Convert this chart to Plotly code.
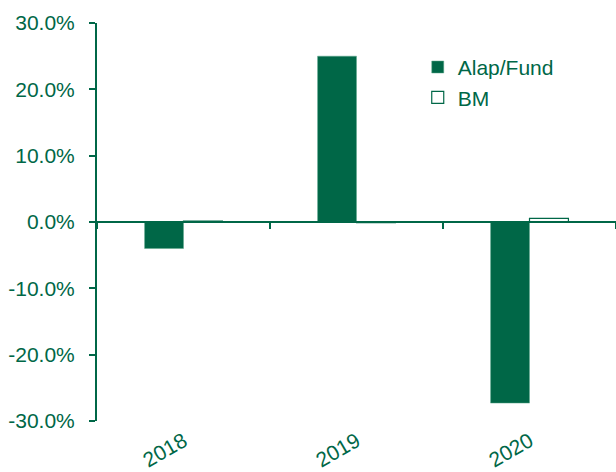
import plotly.graph_objects as go

years = ["2018", "2019", "2020"]
fund = [-4.0, 25.0, -27.3]
bm = [0.15, -0.1, 0.55]
y_ticks = [-30, -20, -10, 0, 10, 20, 30]
y_labels = ["-30.0%", "-20.0%", "-10.0%", "0.0%", "10.0%", "20.0%", "30.0%"]

GREEN = "#006747"
FONT = "Liberation Sans, Arial, sans-serif"

fig = go.Figure()
fig.add_trace(go.Bar(name="Alap/Fund", x=years, y=fund,
                     marker=dict(color=GREEN, line=dict(color="#5fa88c", width=0.5))))
fig.add_trace(go.Bar(name="BM", x=years, y=bm,
                     marker=dict(color="white", line=dict(color=GREEN, width=1.2))))
# invisible trace to carry the zero-level category axis
fig.add_trace(go.Scatter(x=years, y=[0, 0, 0], xaxis="x2", mode="none",
                         showlegend=False, hoverinfo="skip"))

fig.update_layout(
    width=616, height=472,
    margin=dict(l=97, r=0, t=23, b=51),
    paper_bgcolor="white", plot_bgcolor="white",
    barmode="group", bargap=0.55, bargroupgap=0,
    font=dict(family=FONT, size=21, color=GREEN),
    showlegend=True,
    legend=dict(x=0.618, y=0.94, xanchor="left", yanchor="top",
                bgcolor="rgba(0,0,0,0)", font=dict(size=21, color=GREEN),
                itemwidth=30, tracegroupgap=0),
    xaxis=dict(showline=False, ticks="", showgrid=False, zeroline=False,
               tickangle=-30, ticklabelstandoff=3, automargin=False,
               tickfont=dict(size=21, color=GREEN)),
    xaxis2=dict(overlaying="x", matches="x", anchor="free", position=0.5,
                showline=True, linecolor=GREEN, linewidth=2,
                ticks="outside", tickson="boundaries", ticklen=6,
                tickcolor=GREEN, tickwidth=2, showticklabels=False,
                showgrid=False, zeroline=False, automargin=False),
    yaxis=dict(range=[-30, 30], tickvals=y_ticks, ticktext=y_labels,
               showline=True, linecolor=GREEN, linewidth=2,
               ticks="outside", ticklen=6, tickcolor=GREEN, tickwidth=2,
               showgrid=False, zeroline=False, ticklabelstandoff=10,
               automargin=False,
               tickfont=dict(size=21, color=GREEN)),
)

fig.write_html(
    "out.html",
    config={"displayModeBar": False},
    post_script=("document.documentElement.style.margin='0';"
                 "document.body.style.margin='0';"
                 "document.documentElement.style.overflow='hidden';"
                 "document.body.style.overflow='hidden';"),
)
